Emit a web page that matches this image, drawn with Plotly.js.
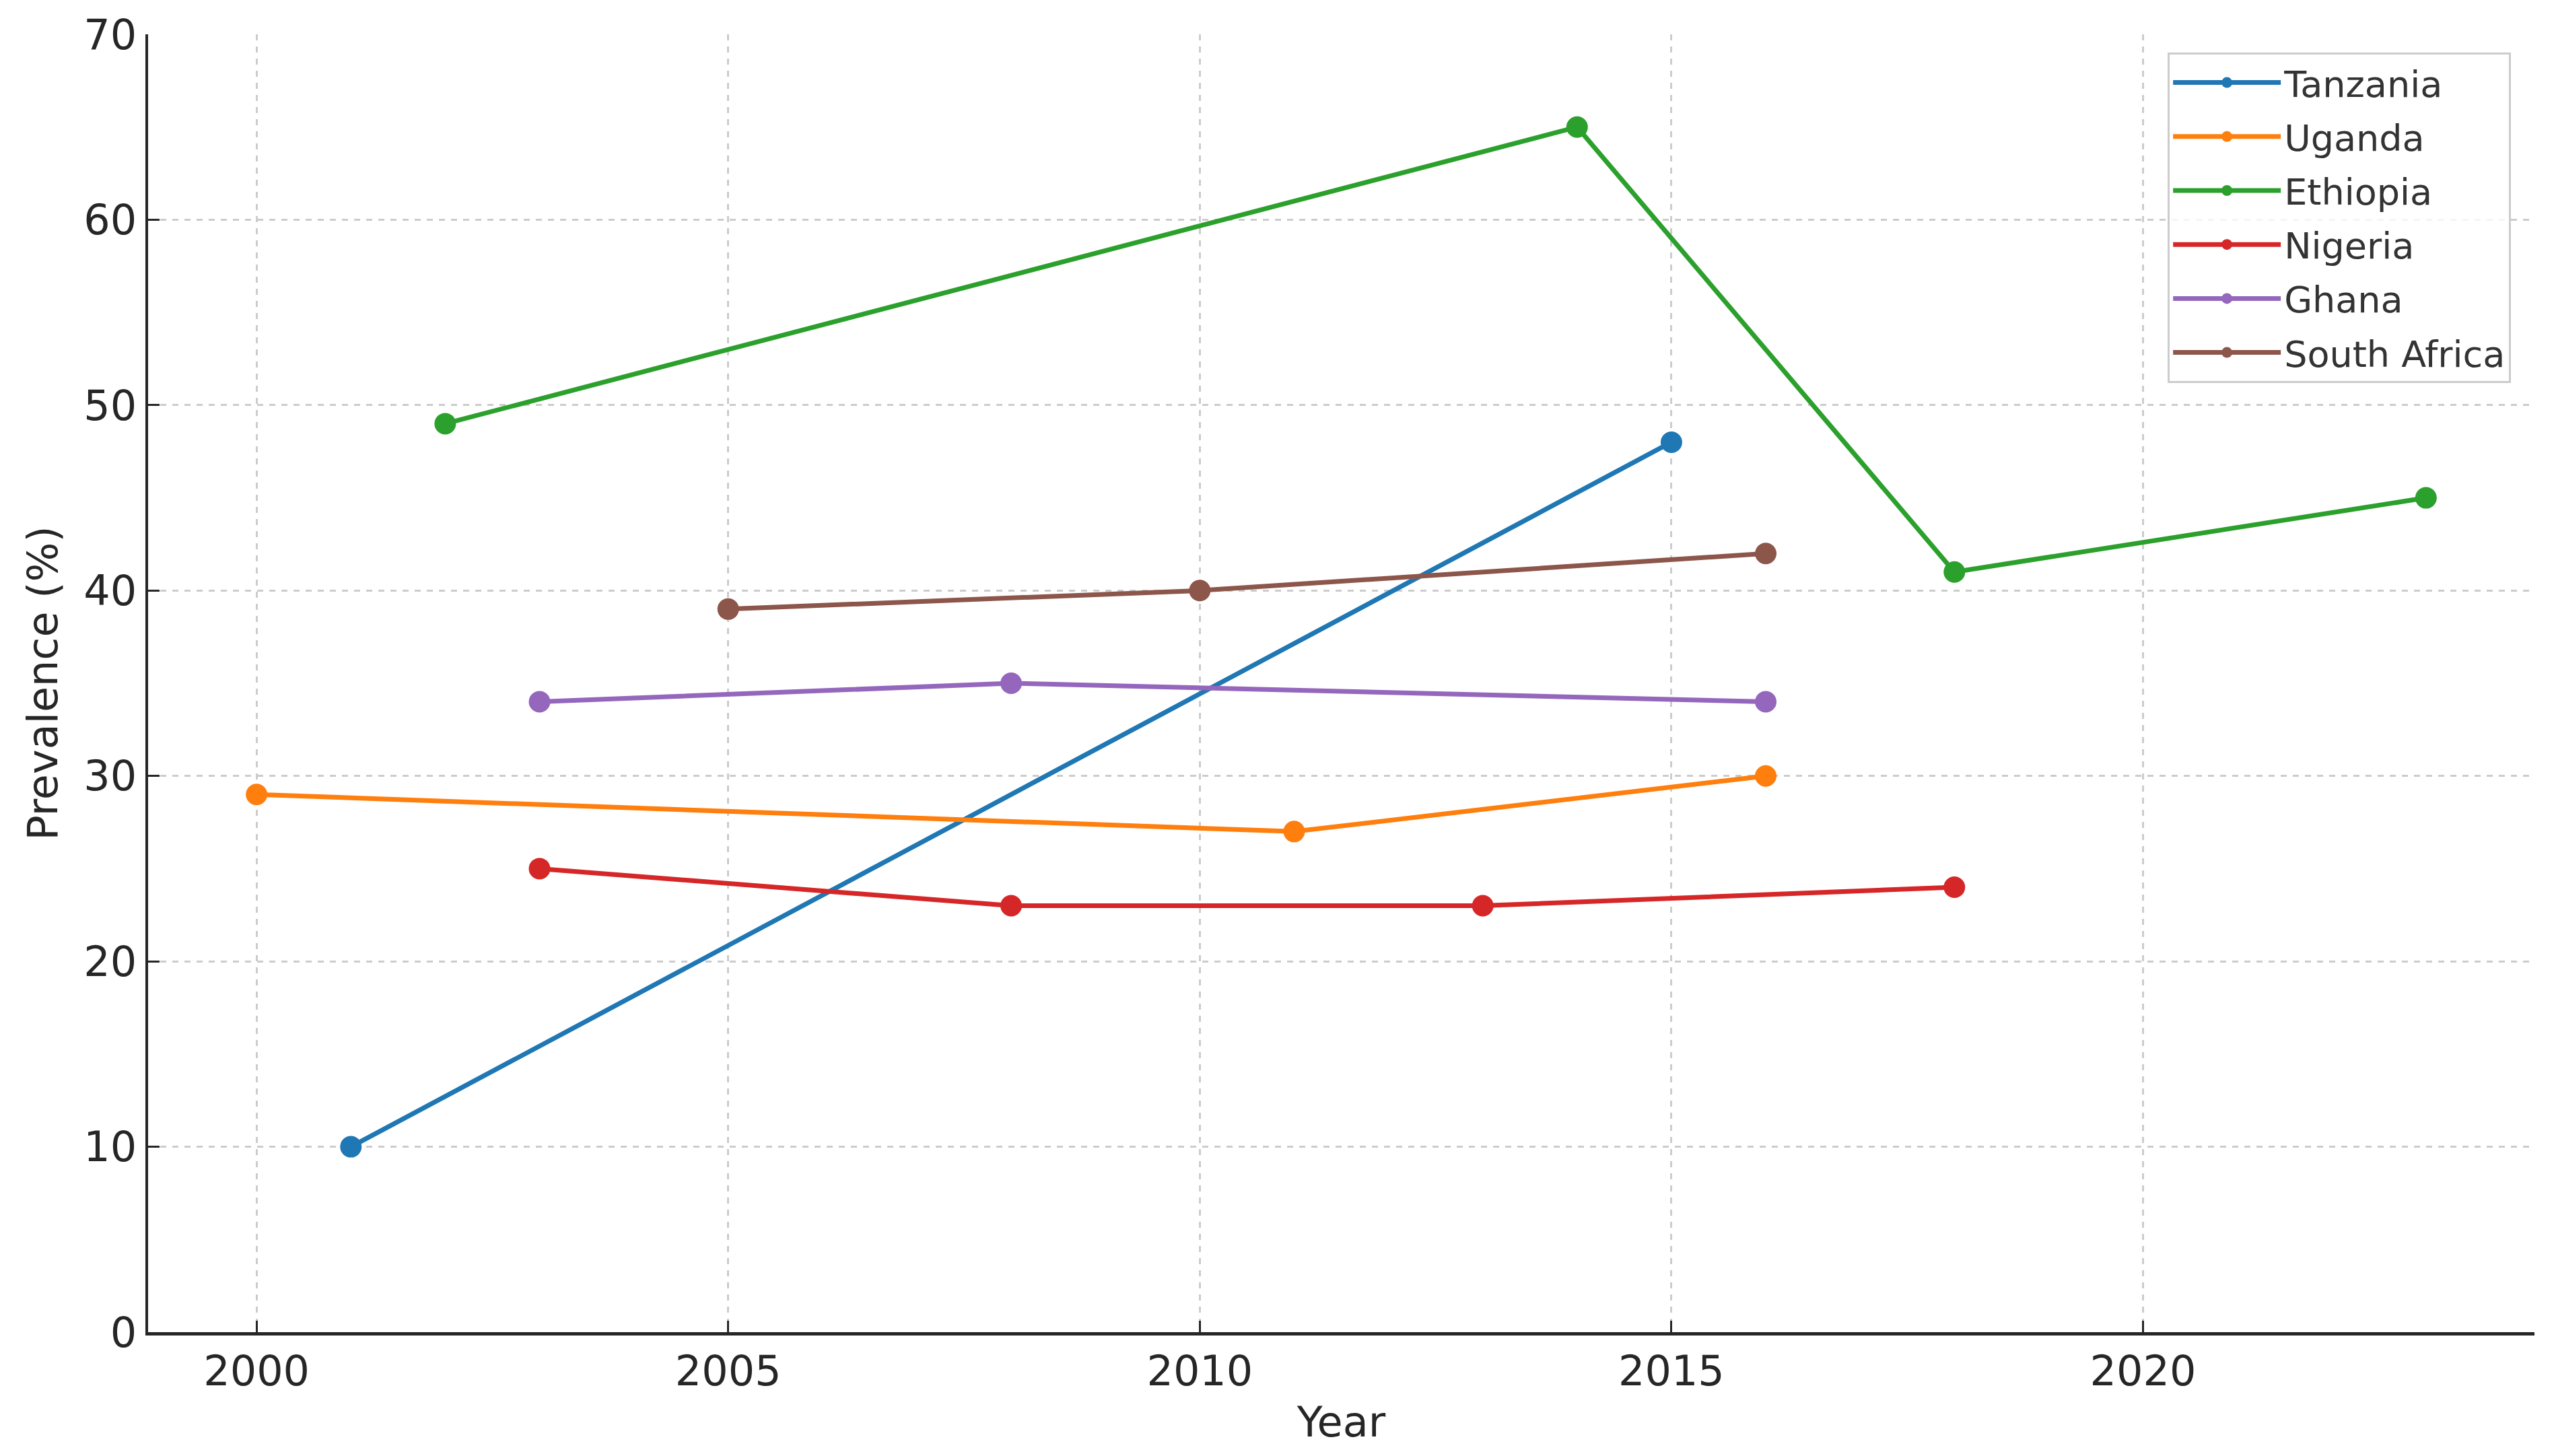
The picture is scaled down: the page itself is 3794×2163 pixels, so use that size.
<!DOCTYPE html>
<html>
<head>
<meta charset="utf-8">
<script src="https://cdn.plot.ly/plotly-3.0.1.min.js"></script>
<style>html,body{margin:0;padding:0;background:#fff;}#chart{width:3794px;height:2163px;}</style>
</head>
<body>
<div id="chart"></div>
<script>
// Data
const countries = ["Tanzania", "Uganda", "Ethiopia", "Nigeria", "Ghana", "South Africa"];
const tanzaniaYears = [2001, 2015];
const tanzaniaValues = [10, 48];
const ugandaYears = [2000, 2011, 2016];
const ugandaValues = [29, 27, 30];
const ethiopiaYears = [2002, 2014, 2018, 2023];
const ethiopiaValues = [49, 65, 41, 45];
const nigeriaYears = [2003, 2008, 2013, 2018];
const nigeriaValues = [25, 23, 23, 24];
const ghanaYears = [2003, 2008, 2016];
const ghanaValues = [34, 35, 34];
const southAfricaYears = [2005, 2010, 2016];
const southAfricaValues = [39, 40, 42];
const xTickVals = [2000, 2005, 2010, 2015, 2020];
const yTickVals = [0, 10, 20, 30, 40, 50, 60, 70];

const colors = ["#1f77b4", "#ff7f0e", "#2ca02c", "#d62728", "#9467bd", "#8c564b"];
const seriesX = [tanzaniaYears, ugandaYears, ethiopiaYears, nigeriaYears, ghanaYears, southAfricaYears];
const seriesY = [tanzaniaValues, ugandaValues, ethiopiaValues, nigeriaValues, ghanaValues, southAfricaValues];

const traces = countries.map((name, i) => ({
  type: "scatter",
  mode: "lines+markers",
  name: name,
  legendgroup: "g" + i,
  x: seriesX[i],
  y: seriesY[i],
  line: {color: colors[i], width: 7},
  marker: {color: colors[i], size: 32}
}));

const font = "DejaVu Sans, sans-serif";
const layout = {
  width: 3794,
  height: 2163,
  margin: {l: 220, r: 29, t: 51, b: 184},
  paper_bgcolor: "#ffffff",
  plot_bgcolor: "#ffffff",
  font: {family: font, color: "#262626", size: 60},
  showlegend: true,
  xaxis: {
    range: [1998.85, 2024.15],
    tickvals: xTickVals,
    ticktext: xTickVals.map(String),
    ticks: "inside",
    ticklen: 17,
    tickwidth: 3,
    tickcolor: "#262626",
    showline: true,
    linecolor: "#262626",
    linewidth: 4.5,
    showgrid: true,
    gridcolor: "#cccccc",
    gridwidth: 3,
    griddash: "dash",
    zeroline: false,
    tickfont: {family: font, size: 62, color: "#262626"},
    title: {text: "Year", font: {family: font, size: 62, color: "#262626"}, standoff: 20},
    automargin: false
  },
  yaxis: {
    range: [0, 70],
    tickvals: yTickVals,
    ticktext: yTickVals.map(String),
    ticks: "inside",
    ticklen: 17,
    tickwidth: 3,
    tickcolor: "#262626",
    showline: true,
    linecolor: "#262626",
    linewidth: 4.5,
    showgrid: true,
    gridcolor: "#cccccc",
    gridwidth: 3,
    griddash: "dash",
    zeroline: false,
    tickfont: {family: font, size: 62, color: "#262626"},
    title: {text: "Prevalence (%)", font: {family: font, size: 62, color: "#262626"}, standoff: 20},
    automargin: false
  },
  legend: {
    x: 0.8463,
    y: 0.986,
    xanchor: "left",
    yanchor: "top",
    bgcolor: "rgba(255,255,255,0.8)",
    bordercolor: "#cccccc",
    borderwidth: 3,
    font: {family: font, size: 54, color: "#333333"},
    itemwidth: 160,
    traceorder: "grouped",
    tracegroupgap: 7
  }
};

Plotly.newPlot("chart", traces, layout, {displayModeBar: false, staticPlot: true});
</script>
</body>
</html>
